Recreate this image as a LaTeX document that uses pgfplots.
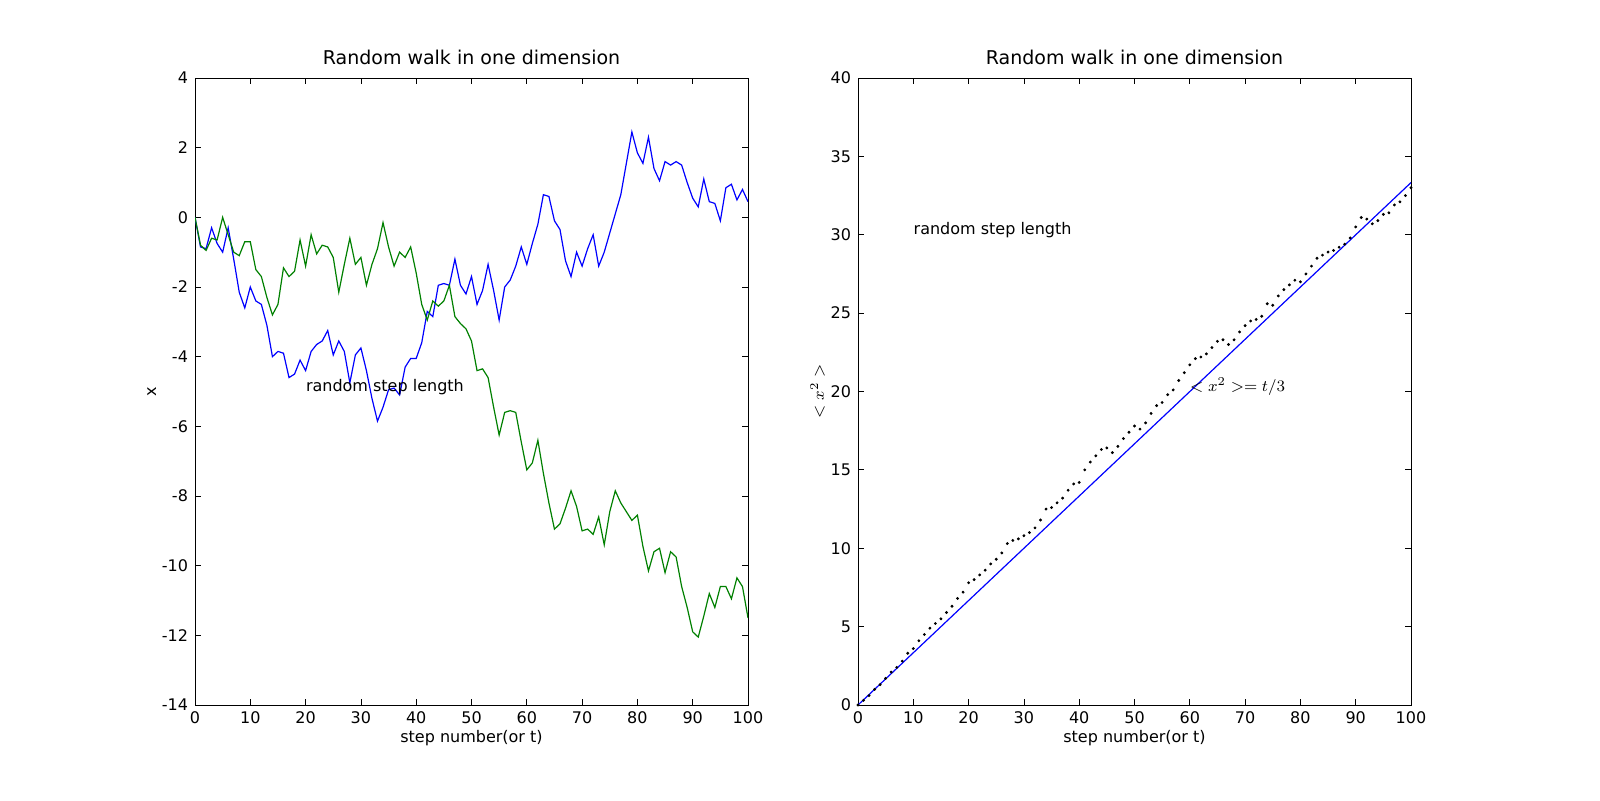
\documentclass[border=0pt]{standalone}
\usepackage{pgfplots}
\pgfplotsset{compat=1.18}
\usepackage{fontspec}
\setmainfont{DejaVu Sans}
\begin{document}
\begin{tikzpicture}
\pgfplotsset{every axis/.style={scale only axis, width=276.5pt, height=313.5pt,
 anchor=south west, xmin=0,xmax=100, tick align=inside, xtick pos=both, ytick pos=both,
 major tick length=3pt, tick style={black,thin},
 /pgf/number format/assume math mode=true,
 ticklabel style={font=\fontsize{8}{9.5}\selectfont},
 label style={font=\fontsize{8}{10}\selectfont},
 title style={font=\fontsize{9.5}{11}\selectfont, yshift=-3pt},
 title={Random walk in one dimension}, xlabel={step number(or t)},
 xlabel style={yshift=4pt}}}
\begin{axis}[at={(97.5pt,47.5pt)}, ymin=-14, ymax=4, ytick={-14,-12,...,4}, ylabel={x}, ylabel style={yshift=-4pt}]
\addplot[blue, semithick] coordinates {(0,0)(1,-0.85)(2,-0.9)(3,-0.3)(4,-0.75)(5,-1.0)(6,-0.3)(7,-1.2)(8,-2.15)(9,-2.6)(10,-2.0)(11,-2.4)(12,-2.5)(13,-3.1)(14,-4.0)(15,-3.85)(16,-3.9)(17,-4.6)(18,-4.5)(19,-4.1)(20,-4.4)(21,-3.85)(22,-3.65)(23,-3.55)(24,-3.25)(25,-3.95)(26,-3.55)(27,-3.85)(28,-4.75)(29,-3.95)(30,-3.75)(31,-4.4)(32,-5.2)(33,-5.85)(34,-5.45)(35,-4.95)(36,-4.9)(37,-5.1)(38,-4.3)(39,-4.05)(40,-4.05)(41,-3.6)(42,-2.7)(43,-2.85)(44,-1.95)(45,-1.9)(46,-1.95)(47,-1.2)(48,-1.95)(49,-2.2)(50,-1.7)(51,-2.5)(52,-2.1)(53,-1.35)(54,-2.1)(55,-2.95)(56,-2.0)(57,-1.8)(58,-1.4)(59,-0.85)(60,-1.35)(61,-0.75)(62,-0.2)(63,0.65)(64,0.6)(65,-0.1)(66,-0.35)(67,-1.25)(68,-1.7)(69,-1.0)(70,-1.4)(71,-0.9)(72,-0.5)(73,-1.4)(74,-1.0)(75,-0.45)(76,0.1)(77,0.65)(78,1.55)(79,2.45)(80,1.85)(81,1.55)(82,2.3)(83,1.4)(84,1.05)(85,1.6)(86,1.5)(87,1.6)(88,1.5)(89,1.0)(90,0.55)(91,0.3)(92,1.1)(93,0.45)(94,0.4)(95,-0.1)(96,0.85)(97,0.95)(98,0.5)(99,0.8)(100,0.45)};
\addplot[black!50!green, semithick] coordinates {(0,0)(1,-0.8)(2,-0.95)(3,-0.6)(4,-0.65)(5,0.0)(6,-0.5)(7,-1.0)(8,-1.1)(9,-0.7)(10,-0.7)(11,-1.5)(12,-1.7)(13,-2.3)(14,-2.8)(15,-2.5)(16,-1.45)(17,-1.7)(18,-1.55)(19,-0.65)(20,-1.4)(21,-0.5)(22,-1.05)(23,-0.8)(24,-0.85)(25,-1.15)(26,-2.15)(27,-1.35)(28,-0.6)(29,-1.35)(30,-1.15)(31,-1.95)(32,-1.35)(33,-0.9)(34,-0.15)(35,-0.85)(36,-1.4)(37,-1.0)(38,-1.15)(39,-0.85)(40,-1.6)(41,-2.5)(42,-2.95)(43,-2.4)(44,-2.55)(45,-2.4)(46,-1.95)(47,-2.85)(48,-3.05)(49,-3.2)(50,-3.55)(51,-4.4)(52,-4.35)(53,-4.6)(54,-5.45)(55,-6.25)(56,-5.6)(57,-5.55)(58,-5.6)(59,-6.45)(60,-7.25)(61,-7.05)(62,-6.4)(63,-7.35)(64,-8.2)(65,-8.95)(66,-8.8)(67,-8.35)(68,-7.85)(69,-8.3)(70,-9.0)(71,-8.95)(72,-9.1)(73,-8.6)(74,-9.4)(75,-8.45)(76,-7.85)(77,-8.2)(78,-8.45)(79,-8.7)(80,-8.55)(81,-9.45)(82,-10.15)(83,-9.6)(84,-9.5)(85,-10.2)(86,-9.6)(87,-9.75)(88,-10.6)(89,-11.2)(90,-11.9)(91,-12.05)(92,-11.45)(93,-10.8)(94,-11.2)(95,-10.6)(96,-10.6)(97,-10.95)(98,-10.35)(99,-10.6)(100,-11.5)};
\node[anchor=base west, font=\fontsize{8}{10}\selectfont, inner sep=0pt] at (axis cs:20,-5) {random step length};
\end{axis}
\begin{axis}[at={(429pt,47.5pt)}, ymin=0, ymax=40, ytick={0,5,...,40}, ylabel={$<x^2>$}, ylabel style={yshift=-4pt}]
\addplot[blue, semithick] coordinates {(0,0)(100,33.33)};
\addplot[only marks, mark=*, mark size=0.5pt, black] coordinates {(0,0)(1,0.3)(2,0.6)(3,1.0)(4,1.3)(5,1.7)(6,2.1)(7,2.4)(8,2.8)(9,3.3)(10,3.6)(11,4.1)(12,4.5)(13,4.9)(14,5.2)(15,5.5)(16,5.9)(17,6.3)(18,6.8)(19,7.2)(20,7.8)(21,8.0)(22,8.3)(23,8.6)(24,9.0)(25,9.3)(26,9.7)(27,10.3)(28,10.5)(29,10.6)(30,10.8)(31,11.0)(32,11.3)(33,11.8)(34,12.5)(35,12.6)(36,12.9)(37,13.2)(38,13.7)(39,14.1)(40,14.2)(41,15.0)(42,15.5)(43,15.9)(44,16.3)(45,16.4)(46,16.1)(47,16.5)(48,17.0)(49,17.4)(50,17.8)(51,17.6)(52,18.0)(53,18.6)(54,19.1)(55,19.3)(56,19.8)(57,20.1)(58,20.7)(59,21.2)(60,21.7)(61,22.1)(62,22.2)(63,22.4)(64,22.8)(65,23.2)(66,23.3)(67,23.0)(68,23.3)(69,23.8)(70,24.2)(71,24.5)(72,24.6)(73,24.8)(74,25.6)(75,25.5)(76,26.1)(77,26.5)(78,26.8)(79,27.1)(80,27.0)(81,27.5)(82,28.0)(83,28.5)(84,28.7)(85,28.9)(86,29.0)(87,29.2)(88,29.4)(89,29.8)(90,30.5)(91,31.1)(92,31.0)(93,30.7)(94,30.9)(95,31.3)(96,31.4)(97,31.9)(98,32.1)(99,32.5)(100,33.0)};
\node[anchor=base west, font=\fontsize{8}{10}\selectfont, inner sep=0pt] at (axis cs:10,30) {random step length};
\node[anchor=base west, font=\fontsize{8}{10}\selectfont, inner sep=0pt] at (axis cs:60,20) {$<x^2>=t/3$};
\end{axis}
\pgfresetboundingbox
\path[use as bounding box] (0,0) rectangle (800pt,400pt);
\end{tikzpicture}
\end{document}
